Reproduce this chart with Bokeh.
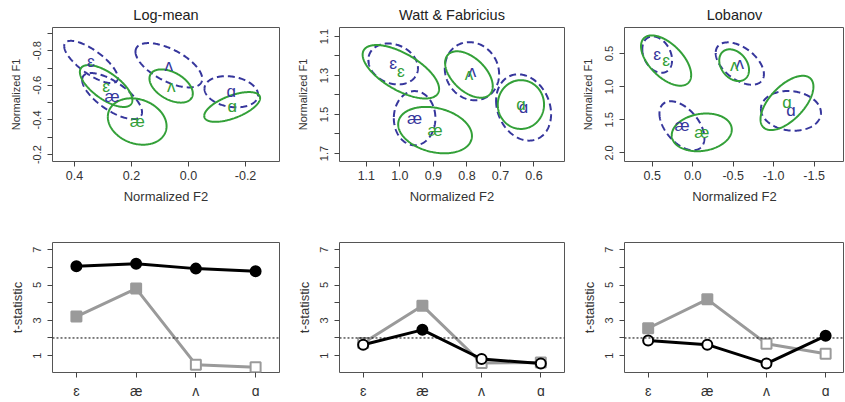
import numpy as np
from bokeh.plotting import figure
from bokeh.layouts import row, column
from bokeh.models import Range1d, FixedTicker, PrintfTickFormatter, Span, ColumnDataSource
from bokeh.embed import file_html
from bokeh.resources import INLINE
from bokeh.core.properties import value

FONT = "Liberation Sans"
vowels = ["ɛ", "æ", "ʌ", "ɑ"]
titles = ["Log-mean", "Watt & Fabricius", "Lobanov"]

# ---- vowel ellipse data: mean F2, mean F1, sd F2, sd F1, correlation (order: ɛ æ ʌ ɑ)
# Log-mean
lm_dash_f2 = [0.342, 0.268, 0.069, -0.150]
lm_dash_f1 = [-0.735, -0.538, -0.716, -0.563]
lm_dash_sd2 = [0.094, 0.105, 0.117, 0.094]
lm_dash_sd1 = [0.122, 0.133, 0.128, 0.090]
lm_dash_r = [-0.75, -0.70, -0.61, -0.20]
lm_solid_f2 = [0.289, 0.180, 0.061, -0.153]
lm_solid_f1 = [-0.596, -0.391, -0.596, -0.475]
lm_solid_sd2 = [0.092, 0.103, 0.076, 0.098]
lm_solid_sd1 = [0.121, 0.134, 0.096, 0.086]
lm_solid_r = [-0.67, -0.20, -0.45, 0.60]
# Watt & Fabricius
wf_dash_f2 = [1.020, 0.956, 0.785, 0.631]
wf_dash_f1 = [1.241, 1.519, 1.278, 1.464]
wf_dash_sd2 = [0.074, 0.062, 0.081, 0.082]
wf_dash_sd1 = [0.105, 0.139, 0.149, 0.170]
wf_dash_r = [-0.20, 0.00, -0.10, -0.20]
wf_solid_f2 = [0.997, 0.895, 0.794, 0.639]
wf_solid_f1 = [1.281, 1.580, 1.295, 1.449]
wf_solid_sd2 = [0.114, 0.110, 0.071, 0.069]
wf_solid_sd1 = [0.137, 0.119, 0.119, 0.125]
wf_solid_r = [-0.64, -0.25, -0.50, 0.00]
# Lobanov
lo_dash_f2 = [0.439, 0.133, -0.582, -1.214]
lo_dash_f1 = [0.515, 1.590, 0.650, 1.365]
lo_dash_sd2 = [0.184, 0.278, 0.298, 0.371]
lo_dash_sd1 = [0.275, 0.370, 0.320, 0.300]
lo_dash_r = [-0.30, -0.50, -0.50, -0.10]
lo_solid_f2 = [0.329, -0.112, -0.512, -1.165]
lo_solid_f1 = [0.605, 1.690, 0.675, 1.245]
lo_solid_sd2 = [0.310, 0.371, 0.184, 0.327]
lo_solid_sd1 = [0.380, 0.285, 0.240, 0.410]
lo_solid_r = [-0.57, 0.15, -0.30, 0.60]

# axis settings for top panels
lm_xticks = [0.4, 0.2, 0.0, -0.2]
lm_yticks = [-0.8, -0.6, -0.4, -0.2]
lm_yminor = [-0.9, -0.7, -0.5, -0.3]
wf_xticks = [1.1, 1.0, 0.9, 0.8, 0.7, 0.6]
wf_yticks = [1.1, 1.3, 1.5, 1.7]
wf_yminor = [1.2, 1.4, 1.6]
lo_xticks = [0.5, 0.0, -0.5, -1.0, -1.5]
lo_yticks = [0.5, 1.0, 1.5, 2.0]
lo_yminor = []

# ---- t-statistics (order: ɛ æ ʌ ɑ)
lm_black = [6.06, 6.21, 5.93, 5.78]
lm_gray = [3.21, 4.80, 0.49, 0.34]
wf_black = [1.62, 2.46, 0.81, 0.55]
wf_gray = [1.71, 3.83, 0.58, 0.61]
lo_black = [1.86, 1.62, 0.55, 2.12]
lo_gray = [2.55, 4.19, 1.67, 1.11]
threshold = 2.0
t_yticks = [1, 3, 5, 7]
t_yminor = [2, 4, 6]

BLUE = "#36369c"
GREEN = "#33a038"
GRAY = "#9a9a9a"
FRAME = "#555555"
TXT = "#333333"


def style(p, xt, xminor, yt, yminor, fmt):
    p.outline_line_color = FRAME
    p.outline_line_width = 1
    p.grid.visible = False
    p.background_fill_color = "white"
    p.border_fill_color = "white"
    p.xaxis.ticker = FixedTicker(ticks=xt, minor_ticks=xminor)
    p.yaxis.ticker = FixedTicker(ticks=yt, minor_ticks=yminor)
    if fmt:
        p.xaxis.formatter = PrintfTickFormatter(format=fmt)
        p.yaxis.formatter = PrintfTickFormatter(format=fmt)
    for ax in list(p.xaxis) + list(p.yaxis):
        ax.axis_line_color = None
        ax.major_tick_in = 0
        ax.major_tick_out = 5
        ax.minor_tick_in = 0
        ax.minor_tick_out = 5
        ax.major_tick_line_color = "#444444"
        ax.minor_tick_line_color = "#444444"
        ax.major_label_text_font = FONT
        ax.major_label_text_color = TXT
        ax.axis_label_text_font = FONT
        ax.axis_label_text_font_style = "normal"
        ax.axis_label_text_color = TXT
    for ax in p.xaxis:
        ax.major_label_text_font_size = "12.5px"
        ax.axis_label_text_font_size = "13px"
        ax.major_label_standoff = 4
        ax.axis_label_standoff = 6
    for ax in p.yaxis:
        ax.major_label_text_font_size = "11px"
        ax.axis_label_text_font_size = "11px"
        ax.major_label_standoff = 6
        ax.axis_label_standoff = 9
        ax.major_label_orientation = "vertical"


def ellipse_pts(cx, cy, sx, sy, r):
    t = np.linspace(0, 2 * np.pi, 240)
    xs = cx + sx * np.cos(t)
    ys = cy + sy * (r * np.cos(t) + np.sqrt(1 - r * r) * np.sin(t))
    return list(xs), list(ys)


def top_panel(title, xr, yr, dash, solid, xt, yt, ym, width, bl, br):
    p = figure(width=width, height=215, title=title, output_backend="svg",
               toolbar_location=None, x_range=Range1d(*xr), y_range=Range1d(*yr),
               min_border_left=bl, min_border_right=br,
               min_border_top=26, min_border_bottom=54)
    p.title.align = "center"
    p.title.text_font = FONT
    p.title.text_font_size = "14.5px"
    p.title.text_font_style = "normal"
    p.title.text_color = "#222222"
    p.title.standoff = 9
    style(p, xt, [], yt, ym, "%.1f")
    p.xaxis.axis_label = "Normalized F2"
    p.yaxis.axis_label = "Normalized F1"
    for (f2, f1, s2, s1, rr), color, dashp in ((dash, BLUE, "7 4"), (solid, GREEN, "solid")):
        xs, ys = [], []
        for i in range(len(f2)):
            a, b = ellipse_pts(f2[i], f1[i], s2[i], s1[i], rr[i])
            xs.append(a)
            ys.append(b)
        p.multi_line(xs, ys, line_color=color, line_width=2, line_dash=dashp)
    for (f2, f1, s2, s1, rr), color in ((dash, BLUE), (solid, GREEN)):
        src = ColumnDataSource(dict(x=f2, y=f1, t=vowels))
        p.text(x="x", y="y", text="t", source=src, text_align="center",
               text_baseline="middle", text_font=value(FONT),
               text_font_size="17px", text_color=color)
    return p


def bottom_panel(black, gray, xr, width, bl, br):
    p = figure(width=width, height=186, output_backend="svg", toolbar_location=None,
               x_range=Range1d(*xr), y_range=Range1d(0.044, 7.41),
               min_border_left=bl, min_border_right=br,
               min_border_top=27, min_border_bottom=28)
    style(p, [1, 2, 3, 4], [], t_yticks, t_yminor, None)
    p.xaxis.major_label_overrides = {i + 1: v for i, v in enumerate(vowels)}
    p.xaxis.major_label_text_font_size = "14px"
    p.xaxis.major_label_standoff = 5
    p.yaxis.axis_label = "t-statistic"
    p.yaxis.axis_label_text_font_size = "13px"
    p.yaxis.axis_label_standoff = 6
    p.add_layout(Span(location=threshold, dimension="width", line_color="black",
                      line_width=1, line_dash="2 2"))
    xs = [1, 2, 3, 4]
    gfill = [GRAY if v > threshold else "white" for v in gray]
    bfill = ["black" if v > threshold else "white" for v in black]
    p.line(xs, gray, line_color=GRAY, line_width=3)
    p.scatter(xs, gray, marker="square", size=10, fill_color=gfill,
              line_color=GRAY, line_width=2)
    p.line(xs, black, line_color="black", line_width=3)
    p.scatter(xs, black, marker="circle", size=10, fill_color=bfill,
              line_color="black", line_width=2)
    return p


t1 = top_panel(titles[0], (0.477, -0.319), (-0.16, -0.934),
               (lm_dash_f2, lm_dash_f1, lm_dash_sd2, lm_dash_sd1, lm_dash_r),
               (lm_solid_f2, lm_solid_f1, lm_solid_sd2, lm_solid_sd1, lm_solid_r),
               lm_xticks, lm_yticks, lm_yminor, 293, 52, 14)
t2 = top_panel(titles[1], (1.18, 0.509), (1.741, 1.054),
               (wf_dash_f2, wf_dash_f1, wf_dash_sd2, wf_dash_sd1, wf_dash_r),
               (wf_solid_f2, wf_solid_f1, wf_solid_sd2, wf_solid_sd1, wf_solid_r),
               wf_xticks, wf_yticks, wf_yminor, 285, 44, 14)
t3 = top_panel(titles[2], (0.843, -1.876), (2.13, 0.1055),
               (lo_dash_f2, lo_dash_f1, lo_dash_sd2, lo_dash_sd1, lo_dash_r),
               (lo_solid_f2, lo_solid_f1, lo_solid_sd2, lo_solid_sd1, lo_solid_r),
               lo_xticks, lo_yticks, lo_yminor, 266, 44, 0)

b1 = bottom_panel(lm_black, lm_gray, (0.6, 4.4), 293, 52, 14)
b2 = bottom_panel(wf_black, wf_gray, (0.6, 4.4), 285, 44, 14)
b3 = bottom_panel(lo_black, lo_gray, (0.6, 4.319), 266, 44, 0)

layout = column(row(t1, t2, t3), row(b1, b2, b3))
open("out.html", "w").write(file_html(layout, INLINE, title="Normalization comparison"))
